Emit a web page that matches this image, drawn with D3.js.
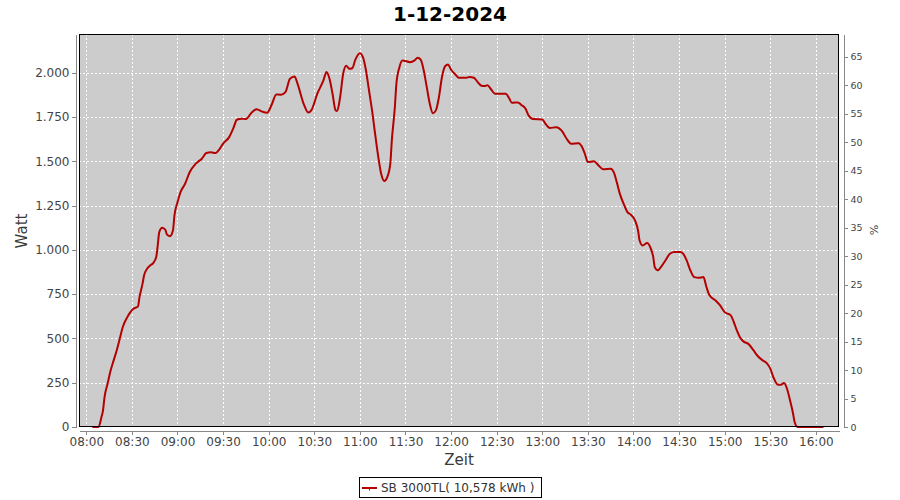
<!DOCTYPE html>
<html>
<head>
<meta charset="utf-8">
<script src="https://cdn.jsdelivr.net/npm/d3@7"></script>
<style>
  html, body { margin: 0; padding: 0; background: #ffffff; }
  svg { display: block; font-family: "DejaVu Sans", sans-serif; }
</style>
</head>
<body>
<svg id="chart" width="900" height="500"></svg>
<script>
// ---- Data ----
const title = "1-12-2024";
const seriesName = "SB 3000TL( 10,578 kWh )";
const times = [
  "08:04","08:08","08:10","08:11","08:12","08:14","08:16","08:18","08:20","08:22",
  "08:24","08:27","08:29","08:31","08:34","08:35","08:37","08:38","08:40","08:42",
  "08:44","08:46","08:47","08:48","08:50","08:52","08:53","08:55","08:57","08:58",
  "09:00","09:02","09:05","09:08","09:12","09:16","09:19","09:22","09:25","09:27",
  "09:30","09:34","09:37","09:39","09:42","09:45","09:49","09:52","09:56","09:59",
  "10:02","10:05","10:08","10:11","10:14","10:17","10:19","10:23","10:26","10:28",
  "10:32","10:36","10:38","10:40","10:42","10:44","10:45","10:47","10:49","10:51",
  "10:53","10:55","10:57","11:00","11:02","11:04","11:06","11:08","11:10","11:12",
  "11:14","11:16","11:18","11:20","11:21","11:23","11:24","11:26","11:28","11:33",
  "11:36","11:38","11:40","11:42","11:44","11:46","11:48","11:50","11:52","11:54",
  "11:56","11:58","12:00","12:03","12:05","12:10","12:12","12:15","12:17","12:20",
  "12:22","12:24","12:26","12:29","12:36","12:38","12:40","12:44","12:46","12:49",
  "12:51","12:54","13:00","13:02","13:05","13:09","13:13","13:16","13:19","13:24",
  "13:26","13:28","13:30","13:34","13:37","13:40","13:45","13:47","13:49","13:51",
  "13:54","13:56","13:58","14:01","14:03","14:04","14:06","14:09","14:11","14:13",
  "14:14","14:16","14:18","14:21","14:24","14:27","14:31","14:33","14:35","14:37",
  "14:40","14:43","14:46","14:48","14:50","14:54","14:57","15:00","15:04","15:06",
  "15:08","15:10","15:12","15:16","15:19","15:22","15:25","15:28","15:30","15:32",
  "15:35","15:37","15:39","15:41","15:43","15:45","15:46","15:48","16:05"
];
const watts = [
  0,0,56,94,169,244,319,376,432,498,
  564,620,648,667,681,733,809,855,893,912,
  925,959,1025,1100,1125,1113,1087,1077,1109,1194,
  1269,1326,1373,1438,1486,1514,1546,1550,1546,1561,
  1599,1636,1692,1734,1740,1738,1777,1794,1779,1774,
  1820,1877,1875,1890,1965,1978,1937,1824,1775,1787,
  1881,1956,2003,1965,1881,1787,1783,1862,1994,2039,
  2022,2025,2073,2110,2087,2012,1899,1787,1655,1530,
  1429,1388,1410,1486,1617,1805,1937,2031,2069,2059,
  2069,2084,2073,2012,1918,1824,1771,1787,1862,1975,
  2035,2046,2016,1988,1971,1971,1975,1971,1952,1926,
  1924,1929,1909,1881,1881,1858,1830,1832,1819,1796,
  1758,1738,1736,1712,1687,1692,1670,1627,1599,1602,
  1583,1542,1495,1500,1476,1455,1458,1438,1382,1317,
  1250,1213,1200,1166,1109,1053,1025,1038,1015,959,
  902,884,902,940,978,987,987,974,940,893,
  846,842,846,790,743,714,686,648,630,592,
  545,507,485,466,432,398,376,357,329,282,
  239,239,248,216,150,75,28,0,0
];
const xTickLabels = ["08:00","08:30","09:00","09:30","10:00","10:30","11:00","11:30","12:00",
  "12:30","13:00","13:30","14:00","14:30","15:00","15:30","16:00"];
const yTicks = [0,250,500,750,1000,1250,1500,1750,2000];
const pctTicks = [0,5,10,15,20,25,30,35,40,45,50,55,60,65];
const xDomain = ["07:55:12","16:15:12"];
const yMax = 2218;
const pctMax = 69;

// ---- Layout ----
const plot = { left: 79, top: 34, right: 839, bottom: 427 };
const svg = d3.select("#chart");
const parseT = d3.timeParse("%H:%M");
const parseTS = d3.timeParse("%H:%M:%S");
const data = times.map((t, i) => ({ t: parseT(t), v: watts[i] }));

const x = d3.scaleTime().domain(xDomain.map(parseTS)).range([plot.left, plot.right]);
const y = d3.scaleLinear().domain([0, yMax]).range([plot.bottom, plot.top]);
const y2 = d3.scaleLinear().domain([0, pctMax]).range([plot.bottom, plot.top]);

const de = d3.formatLocale({ decimal: ",", thousands: ".", grouping: [3], currency: ["", "€"] });
const fmtY = de.format(",d");

// Title
svg.append("text").attr("x", 450).attr("y", 21).attr("text-anchor", "middle")
  .attr("font-size", 20).attr("font-weight", "bold").attr("fill", "#000").text(title);

// Plot background
svg.append("rect").attr("x", plot.left).attr("y", plot.top)
  .attr("width", plot.right - plot.left).attr("height", plot.bottom - plot.top)
  .attr("fill", "#cccccc");

// Grid
const grid = svg.append("g").attr("stroke", "#ffffff").attr("stroke-width", 1)
  .attr("stroke-dasharray", "2,2").attr("shape-rendering", "crispEdges");
grid.selectAll("line.v").data(xTickLabels.map(parseT)).join("line").attr("class", "v")
  .attr("x1", d => Math.round(x(d)) + 0.5).attr("x2", d => Math.round(x(d)) + 0.5)
  .attr("y1", plot.top).attr("y2", plot.bottom);
grid.selectAll("line.h").data(yTicks.filter(d => d > 0)).join("line").attr("class", "h")
  .attr("y1", d => Math.round(y(d)) + 0.5).attr("y2", d => Math.round(y(d)) + 0.5)
  .attr("x1", plot.left).attr("x2", plot.right);

// Series line
const line = d3.line().x(d => x(d.t)).y(d => y(d.v)).curve(d3.curveMonotoneX);
svg.append("path").datum(data).attr("d", line).attr("fill", "none")
  .attr("stroke", "#b30000").attr("stroke-width", 2).attr("stroke-linejoin", "round");

// Plot border
svg.append("rect").attr("x", plot.left + 0.5).attr("y", plot.top + 0.5)
  .attr("width", plot.right - plot.left - 1).attr("height", plot.bottom - plot.top - 1)
  .attr("fill", "none").attr("stroke", "#000").attr("stroke-width", 1)
  .attr("shape-rendering", "crispEdges");

function styleAxis(g, size) {
  g.selectAll("path.domain").attr("stroke", "#888").attr("shape-rendering", "crispEdges");
  g.selectAll(".tick line").attr("stroke", "#888").attr("shape-rendering", "crispEdges");
  g.selectAll(".tick text").attr("fill", "#444").attr("font-size", size)
    .attr("font-family", "DejaVu Sans, sans-serif");
}

// Left axis
const gl = svg.append("g").attr("transform", "translate(75.5,0)")
  .call(d3.axisLeft(y).tickValues(yTicks).tickFormat(fmtY).tickSize(4).tickSizeOuter(0).tickPadding(2));
styleAxis(gl, 12);

// Bottom axis
const gb = svg.append("g").attr("transform", "translate(0,430.5)")
  .call(d3.axisBottom(x).tickValues(xTickLabels.map(parseT)).tickFormat(d3.timeFormat("%H:%M"))
    .tickSize(4).tickSizeOuter(0).tickPadding(3));
styleAxis(gb, 12);

// Right axis
const gr = svg.append("g").attr("transform", "translate(843.5,0)")
  .call(d3.axisRight(y2).tickValues(pctTicks).tickFormat(d3.format("d")).tickSize(4).tickSizeOuter(0).tickPadding(3));
styleAxis(gr, 9.5);

// Axis titles
svg.append("text").attr("transform", "translate(27,231) rotate(-90)").attr("text-anchor", "middle")
  .attr("font-size", 15).attr("fill", "#3a3a3a").text("Watt");
svg.append("text").attr("x", 459).attr("y", 465).attr("text-anchor", "middle")
  .attr("font-size", 15).attr("fill", "#3a3a3a").text("Zeit");
svg.append("text").attr("transform", "translate(870,230) rotate(90)").attr("text-anchor", "middle")
  .attr("font-size", 11).attr("fill", "#444").text("%");

// Legend
const lg = svg.append("g");
lg.append("rect").attr("x", 359.5).attr("y", 477.5).attr("width", 182).attr("height", 20)
  .attr("fill", "#fff").attr("stroke", "#000").attr("stroke-width", 1).attr("shape-rendering", "crispEdges");
lg.append("line").attr("x1", 362).attr("x2", 377).attr("y1", 488).attr("y2", 488)
  .attr("stroke", "#b30000").attr("stroke-width", 2);
lg.append("line").attr("x1", 369.5).attr("x2", 369.5).attr("y1", 488).attr("y2", 490.5)
  .attr("stroke", "#b30000").attr("stroke-width", 1);
lg.append("text").attr("x", 381).attr("y", 492).attr("font-size", 12).attr("fill", "#333")
  .text(seriesName);
</script>
</body>
</html>
